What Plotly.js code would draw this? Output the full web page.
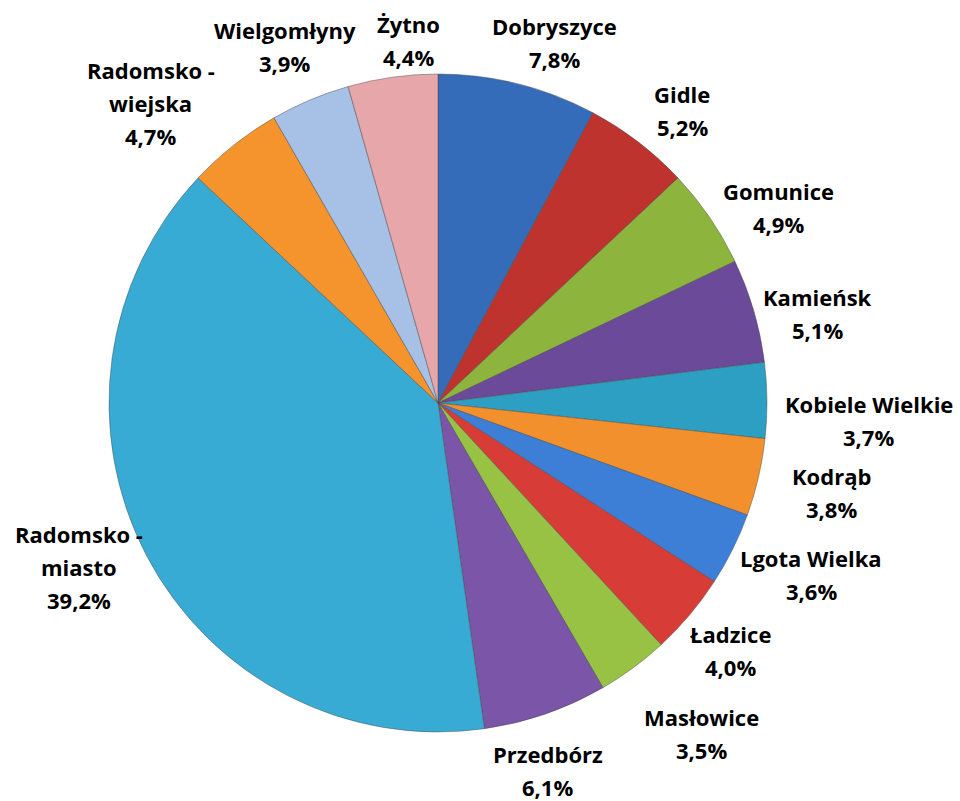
<!DOCTYPE html>
<html>
<head>
<meta charset="utf-8">
<script src="https://cdn.plot.ly/plotly-3.0.1.min.js"></script>
<style>html,body{margin:0;padding:0;background:#fff;}#chart{width:960px;height:801px;}</style>
</head>
<body>
<div id="chart"></div>
<script>
const categories = ["Dobryszyce","Gidle","Gomunice","Kamieńsk","Kobiele Wielkie","Kodrąb","Lgota Wielka","Ładzice","Masłowice","Przedbórz","Radomsko - miasto","Radomsko - wiejska","Wielgomłyny","Żytno"];
const shares = [7.8,5.2,4.9,5.1,3.7,3.8,3.6,4.0,3.5,6.1,39.2,4.7,3.9,4.4];
const colors = ["#356CBA","#BE332E","#8DB53E","#6C4A9A","#2C9FC2","#F3902E","#3D7FD6","#D83C36","#97C244","#7A55A8","#38ABD5","#F5932C","#A6C0E6","#E7A6A9"];

// label placement nudges (px, layout only)
const labelNudgeX = [19,16,18,4,3,23,4,-3,28,-20,-3,-38,5,22];
const labelNudgeY = [10,11,20,18,21,3,2,1,23,7,-20,12,-5,16];

const W = 960, H = 801;
const cx = 438, cy = 403, R = 329;
const dom = {x:[(cx-R)/W,(cx+R)/W], y:[1-(cy+R)/H,1-(cy-R)/H]};

const fontFam = "'Open Sans', Lato, sans-serif";
const fontSize = 22, lineH = 33;

const total = shares.reduce((a,b)=>a+b,0);
const annotations = [];
let cum = 0;
shares.forEach((v,i)=>{
  const theta = (cum + v/2)/total*2*Math.PI;
  cum += v;
  const s = Math.sin(theta), c = Math.cos(theta);
  const lines = categories[i].split(" - ");
  if (lines.length>1) lines[0] = lines[0] + " -";
  lines.push(v.toFixed(1).replace(".",",") + "%");
  const w = Math.max(...lines.map(l=>l.length))*10.5;
  const h = lines.length*lineH;
  const R0 = R + 20;
  const ax = cx + R0*s, ay = cy - R0*c;
  const bx = ax + w/2*s + labelNudgeX[i], by = ay - h/2*c + labelNudgeY[i];
  lines.forEach((t,k)=>{
    const ly = by - h/2 + lineH*(k+0.5);
    annotations.push({x:bx/W, y:1-ly/H, xref:"paper", yref:"paper", text:"<b>"+t+"</b>", showarrow:false,
      xanchor:"center", yanchor:"middle", font:{family:fontFam,size:fontSize,color:"#000"}});
  });
});

const data = [{
  type:"pie", labels:categories, values:shares, sort:false, direction:"clockwise", rotation:0,
  marker:{colors:colors, line:{color:"rgba(70,70,70,0.45)", width:1}},
  textinfo:"none", hoverinfo:"label+percent", domain:dom, showlegend:false
}];
const layout = {width:W, height:H, margin:{l:0,r:0,t:0,b:0}, paper_bgcolor:"#fff", showlegend:false, annotations:annotations};
Plotly.newPlot("chart", data, layout, {staticPlot:true});
</script>
</body>
</html>
